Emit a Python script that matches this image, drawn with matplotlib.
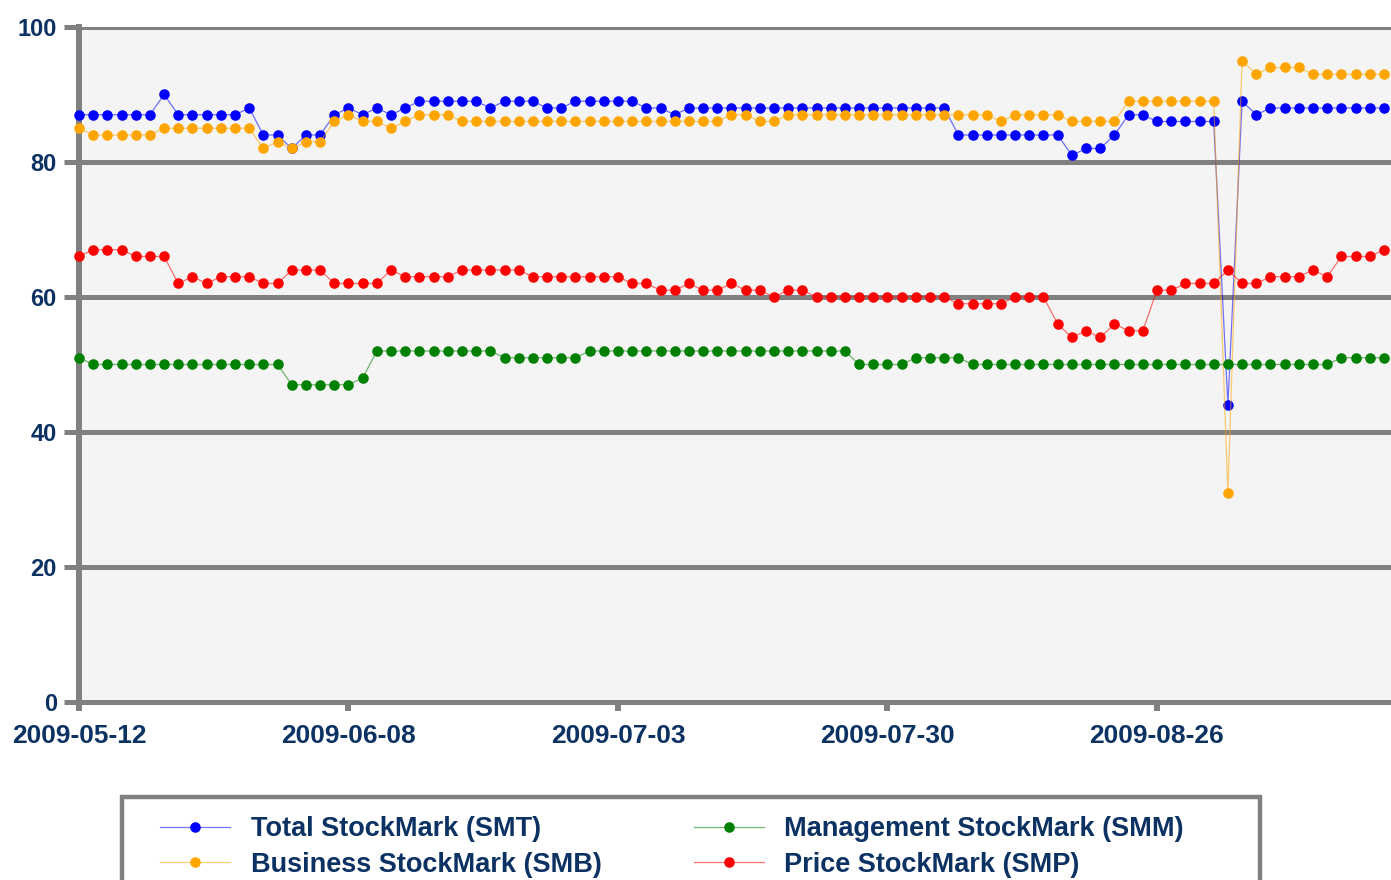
import pandas as pd
import matplotlib
matplotlib.use("Agg")
import matplotlib.pyplot as plt
from matplotlib.patches import Rectangle

# trading days starting 2009-05-12
start_date = "2009-05-12"
tick_every = 19

smt = [87, 87, 87, 87, 87, 87, 90, 87, 87, 87, 87, 87, 88, 84, 84, 82, 84, 84, 87, 88,
       87, 88, 87, 88, 89, 89, 89, 89, 89, 88, 89, 89, 89, 88, 88, 89, 89, 89, 89, 89,
       88, 88, 87, 88, 88, 88, 88, 88, 88, 88, 88, 88, 88, 88, 88, 88, 88, 88, 88, 88,
       88, 88, 84, 84, 84, 84, 84, 84, 84, 84, 81, 82, 82, 84, 87, 87, 86, 86, 86, 86,
       86, 44, 89, 87, 88, 88, 88, 88, 88, 88, 88, 88, 88]

smb = [85, 84, 84, 84, 84, 84, 85, 85, 85, 85, 85, 85, 85, 82, 83, 82, 83, 83, 86, 87,
       86, 86, 85, 86, 87, 87, 87, 86, 86, 86, 86, 86, 86, 86, 86, 86, 86, 86, 86, 86,
       86, 86, 86, 86, 86, 86, 87, 87, 86, 86, 87, 87, 87, 87, 87, 87, 87, 87, 87, 87,
       87, 87, 87, 87, 87, 86, 87, 87, 87, 87, 86, 86, 86, 86, 89, 89, 89, 89, 89, 89,
       89, 31, 95, 93, 94, 94, 94, 93, 93, 93, 93, 93, 93]

smm = [51, 50, 50, 50, 50, 50, 50, 50, 50, 50, 50, 50, 50, 50, 50, 47, 47, 47, 47, 47,
       48, 52, 52, 52, 52, 52, 52, 52, 52, 52, 51, 51, 51, 51, 51, 51, 52, 52, 52, 52,
       52, 52, 52, 52, 52, 52, 52, 52, 52, 52, 52, 52, 52, 52, 52, 50, 50, 50, 50, 51,
       51, 51, 51, 50, 50, 50, 50, 50, 50, 50, 50, 50, 50, 50, 50, 50, 50, 50, 50, 50,
       50, 50, 50, 50, 50, 50, 50, 50, 50, 51, 51, 51, 51]

smp = [66, 67, 67, 67, 66, 66, 66, 62, 63, 62, 63, 63, 63, 62, 62, 64, 64, 64, 62, 62,
       62, 62, 64, 63, 63, 63, 63, 64, 64, 64, 64, 64, 63, 63, 63, 63, 63, 63, 63, 62,
       62, 61, 61, 62, 61, 61, 62, 61, 61, 60, 61, 61, 60, 60, 60, 60, 60, 60, 60, 60,
       60, 60, 59, 59, 59, 59, 60, 60, 60, 56, 54, 55, 54, 56, 55, 55, 61, 61, 62, 62,
       62, 64, 62, 62, 63, 63, 63, 64, 63, 66, 66, 66, 67]

series = [
	("Total StockMark (SMT)", smt, (0, 0, 1)),
	("Business StockMark (SMB)", smb, (1, 0.647, 0)),
	("Price StockMark (SMP)", smp, (1, 0, 0)),
	("Management StockMark (SMM)", smm, (0, 0.5, 0)),
]

text_color = "#0b3262"
grid_color = "#808080"
font = "Liberation Sans"

dates = pd.bdate_range(start_date, periods=len(smt))
x = list(range(len(dates)))

fig = plt.figure(figsize=(13.91, 8.80), dpi=100)
ax = fig.add_axes([79 / 1391, 178 / 880, 1312 / 1391, 675 / 880])
ax.set_facecolor("#f4f4f4")

handles = {}
for label, values, rgb in series:
	line, = ax.plot(x, values, color=rgb + (0.55,), lw=0.9, marker="o", ms=7.6,
		markerfacecolor=rgb, markeredgecolor=rgb, markeredgewidth=0,
		label=label, zorder=4, clip_on=False)
	handles[label] = line

ax.set_xlim(0, 92.5)
ax.set_ylim(0, 100)
ax.set_yticks([0, 20, 40, 60, 80, 100])
ax.set_xticks(x[::tick_every])
ax.set_xticklabels([d.strftime("%Y-%m-%d") for d in dates[::tick_every]])

ax.yaxis.grid(True, color=grid_color, lw=3.6)
ax.set_axisbelow(True)
for side in ["top", "right"]:
	ax.spines[side].set_visible(False)
ax.spines["left"].set_color(grid_color)
ax.spines["left"].set_linewidth(4.3)
ax.spines["bottom"].set_color(grid_color)
ax.spines["bottom"].set_linewidth(3.6)

ax.tick_params(axis="y", length=11, width=3.6, color=grid_color, pad=5)
ax.tick_params(axis="x", length=6.5, width=4.3, color=grid_color, pad=9)
for lab in ax.get_yticklabels():
	lab.set_fontfamily(font)
	lab.set_fontweight("bold")
	lab.set_fontsize(17)
	lab.set_color(text_color)
for lab in ax.get_xticklabels():
	lab.set_fontfamily(font)
	lab.set_fontweight("bold")
	lab.set_fontsize(19)
	lab.set_color(text_color)

# legend box runs off the bottom of the figure
frame = Rectangle((122 / 1391, -0.1), (1260 - 122) / 1391, 0.1 + 83 / 880,
	transform=fig.transFigure, facecolor="white", edgecolor=grid_color,
	lw=3.2, clip_on=False)
fig.add_artist(frame)

order = ["Total StockMark (SMT)", "Business StockMark (SMB)",
	"Management StockMark (SMM)", "Price StockMark (SMP)"]
leg = fig.legend([handles[k] for k in order], order, ncol=2, loc="upper left",
	bbox_to_anchor=(160 / 1391, 1 - 816 / 880), frameon=False, borderpad=0,
	borderaxespad=0, handlelength=2.6, handletextpad=0.75, columnspacing=3.4,
	labelspacing=0.36, markerscale=1.0,
	prop={"family": font, "weight": "bold", "size": 19.5})
for t in leg.get_texts():
	t.set_color(text_color)

fig.savefig("out.png", dpi=100)
